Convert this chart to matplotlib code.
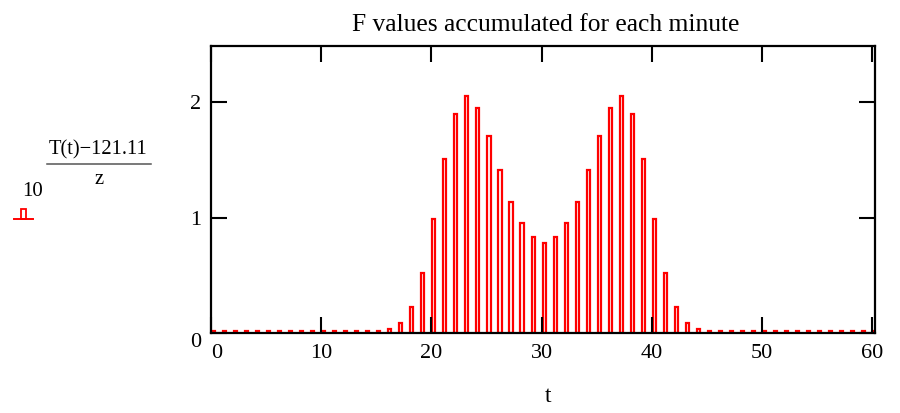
import matplotlib
matplotlib.use("Agg")
import matplotlib.pyplot as plt
from matplotlib.patches import Rectangle
from matplotlib.lines import Line2D

plt.rcParams['font.family'] = ['Liberation Serif', 'DejaVu Serif']

# minutes and the F value read for each one
t = list(range(0, 61))
F = [0.02, 0.02, 0.02, 0.02, 0.02, 0.02, 0.02, 0.02, 0.02, 0.02,
     0.02, 0.02, 0.02, 0.02, 0.02, 0.02, 0.035, 0.086, 0.225, 0.519,
     0.985, 1.504, 1.90, 2.057, 1.953, 1.711, 1.417, 1.137, 0.951, 0.83,
     0.778, 0.83, 0.951, 1.137, 1.417, 1.711, 1.953, 2.057, 1.90, 1.504,
     0.985, 0.519, 0.225, 0.086, 0.035, 0.02, 0.02, 0.02, 0.02, 0.02,
     0.02, 0.02, 0.02, 0.02, 0.02, 0.02, 0.02, 0.02, 0.02, 0.02, 0.02]

xticks = [0, 10, 20, 30, 40, 50, 60]
yticks = [0, 1, 2]
title = "F values accumulated for each minute"

W, H = 900, 413
fig = plt.figure(figsize=(9, 4.13), dpi=100)
ax = fig.add_axes([211 / W, 1 - 333.3 / H, (874.5 - 211) / W, (333.3 - 45.5) / H])

ax.bar([x + 0.08 for x in t], F, width=0.28, align='edge', fill=False,
       edgecolor='#ff0000', linewidth=1.6)

ax.set_xlim(0, 60.2)
ax.set_ylim(0, 2.49)
ax.set_xticks(xticks)
ax.set_yticks(yticks)
for s in ax.spines.values():
    s.set_linewidth(1.6)
ax.tick_params(direction='in', length=11.5, width=1.5, top=True, right=True,
               labelsize=16)
ax.tick_params(axis='x', pad=8)
ax.tick_params(axis='y', pad=7)
ax.get_yticklabels()[0].set_va('top')
ax.get_xticklabels()[0].set_ha('left')

# overlay in pixel coordinates for the texts around the plot
ov = fig.add_axes([0, 0, 1, 1], facecolor='none')
ov.set_xlim(0, W)
ov.set_ylim(H, 0)
ov.axis('off')

ov.text(546, 25, title, ha='center', va='center', fontsize=18.4)
ov.text(548, 396, "t", ha='center', va='center', fontsize=17)

# y label: 10 ^ ((T(t)-121.11)/z)
ov.text(98, 150, "T(t)\u2212121.11", ha='center', va='center', fontsize=14.8)
ov.add_line(Line2D([47, 151], [163.5, 163.5], color='#555555', linewidth=1.1))
ov.text(99, 180, "z", ha='center', va='center', fontsize=14.8)
ov.text(33, 192, "10", ha='center', va='center', fontsize=15)

# legend glyph for the bar trace
ov.add_line(Line2D([14, 33], [219, 219], color='#ff0000', linewidth=1.4))
ov.add_patch(Rectangle((21, 208.5), 4.5, 10.5, fill=False, edgecolor='#ff0000',
                       linewidth=1.3))

fig.savefig("out.png", dpi=100)
